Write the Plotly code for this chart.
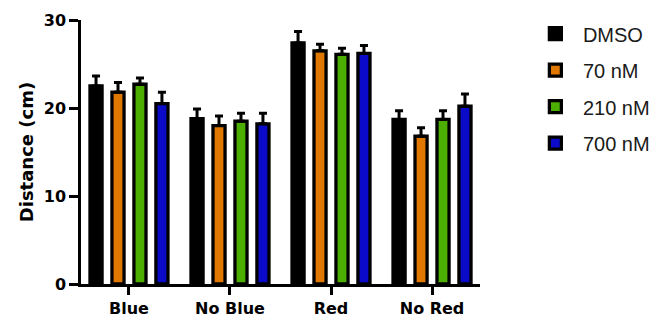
import plotly.graph_objects as go

categories = ["Blue", "No Blue", "Red", "No Red"]
series_names = ["DMSO", "70 nM", "210 nM", "700 nM"]
dmso = [22.5, 18.8, 27.4, 18.7]
nm70 = [21.8, 18.0, 26.5, 16.8]
nm210 = [22.7, 18.5, 26.1, 18.7]
nm700 = [20.5, 18.2, 26.2, 20.2]
dmso_err = [1.15, 1.1, 1.3, 1.0]
nm70_err = [1.1, 1.1, 0.75, 0.95]
nm210_err = [0.7, 0.9, 0.7, 1.0]
nm700_err = [1.3, 1.2, 0.9, 1.4]
y_ticks = [0, 10, 20, 30]

colors = ["#000000", "#E07800", "#4CAE00", "#0A0AC8"]
values = [dmso, nm70, nm210, nm700]
errs = [dmso_err, nm70_err, nm210_err, nm700_err]

BOLD = "DejaVu Sans, Arial, sans-serif"
REG = "Liberation Sans, Arial, sans-serif"

fig = go.Figure()
for name, vals, err, col in zip(series_names, values, errs, colors):
    fig.add_trace(go.Bar(
        x=categories, y=vals, name=name, legendgroup=name,
        marker=dict(color=col, line=dict(color="black", width=3.3)),
        error_y=dict(type="data", array=err, arrayminus=[0]*len(err), symmetric=False,
                     color="black", thickness=3, width=4),
    ))

fig.update_layout(
    width=667, height=321,
    margin=dict(l=81, r=187, t=20, b=37),
    paper_bgcolor="white", plot_bgcolor="white",
    barmode="group", bargap=0.13, bargroupgap=0.45,
    font=dict(family=REG, color="black"),
    showlegend=True,
    legend=dict(x=1.12, y=1.022, xanchor="left", yanchor="top",
                font=dict(size=20, family=REG, color="#1a1a1a"),
                itemwidth=45,
                traceorder="grouped", tracegroupgap=7.5),
    xaxis=dict(type="category", range=[-0.475, 3.475], showline=True, linecolor="black",
               linewidth=2.5, ticks="outside", ticklen=8, tickwidth=2.5, tickcolor="black",
               tickfont=dict(size=16, family=BOLD, weight="bold"), showgrid=False,
               zeroline=False, automargin=False),
    yaxis=dict(range=[0, 30], tickvals=y_ticks, showline=True, linecolor="black",
               linewidth=2.5, ticks="outside", ticklen=9, tickwidth=2.5, tickcolor="black",
               tickfont=dict(size=16, family=BOLD, weight="bold"), showgrid=False,
               zeroline=False, automargin=False,
               title=dict(text="Distance (cm)", font=dict(size=18, family=BOLD, weight="bold"),
                          standoff=6)),
)

fig.write_html("out.html")
